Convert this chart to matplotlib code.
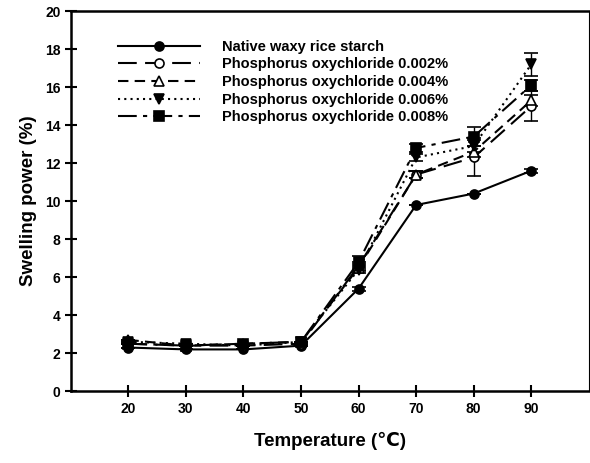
import numpy as np
import matplotlib
matplotlib.use("Agg")
import matplotlib.pyplot as plt
from matplotlib.lines import Line2D

plt.rcParams['font.family'] = ['Liberation Sans', 'DejaVu Sans']
plt.rcParams['font.weight'] = 'bold'

temps = [20, 30, 40, 50, 60, 70, 80, 90]

labels = ["Native waxy rice starch",
          "Phosphorus oxychloride 0.002%",
          "Phosphorus oxychloride 0.004%",
          "Phosphorus oxychloride 0.006%",
          "Phosphorus oxychloride 0.008%"]

native = [2.3, 2.2, 2.2, 2.4, 5.4, 9.8, 10.4, 11.6]
p002 = [2.5, 2.4, 2.4, 2.5, 6.6, 11.4, 12.3, 15.0]
p004 = [2.7, 2.4, 2.5, 2.6, 6.5, 11.4, 12.6, 15.3]
p006 = [2.6, 2.5, 2.4, 2.6, 6.4, 12.3, 12.9, 17.2]
p008 = [2.5, 2.4, 2.5, 2.6, 6.8, 12.8, 13.4, 16.1]

err_native = [0.0, 0.0, 0.0, 0.0, 0.1, 0.0, 0.0, 0.1]
err_002 = [0.0, 0.0, 0.0, 0.0, 0.2, 0.2, 1.0, 0.8]
err_004 = [0.0, 0.0, 0.0, 0.0, 0.2, 0.2, 0.3, 0.3]
err_006 = [0.0, 0.0, 0.0, 0.0, 0.2, 0.2, 0.3, 0.6]
err_008 = [0.0, 0.0, 0.0, 0.0, 0.3, 0.2, 0.5, 0.3]

series = [native, p002, p004, p006, p008]
errors = [err_native, err_002, err_004, err_006, err_008]
markers = ['o', 'o', '^', 'v', 's']
fills = ['black', 'white', 'white', 'black', 'black']
styles = ['-', (0, (9, 4)), (0, (5, 3)), (0, (1, 2)), (0, (9, 3, 2, 3))]

fig = plt.figure(figsize=(5.9, 4.63), dpi=100)
ax = fig.add_axes([0.120, 0.155, 0.878, 0.821])

handles = []
for y, e, m, fc, ls, lab in zip(series, errors, markers, fills, styles, labels):
    ax.errorbar(temps, y, yerr=e, color='black', marker=m, markersize=6.5,
                markerfacecolor=fc, markeredgecolor='black', markeredgewidth=1.2,
                linestyle=ls, linewidth=1.5, capsize=5, elinewidth=1.0)
    handles.append(Line2D([], [], color='black', marker=m, markersize=6.5,
                          markerfacecolor=fc, markeredgecolor='black',
                          markeredgewidth=1.2, linestyle=ls, linewidth=1.5,
                          label=lab))

ax.set_xlim(10, 100)
ax.set_ylim(0, 20)
ax.set_xticks(temps)
ax.set_yticks(np.arange(0, 21, 2))
ax.tick_params(direction='inout', length=8, width=1.5, labelsize=10)
for s in ax.spines.values():
    s.set_linewidth(1.8)
ax.spines['right'].set_linewidth(0.8)

ax.set_xlabel("Temperature (℃)", fontsize=13.5, fontweight='bold', labelpad=12)
ax.set_ylabel("Swelling power (%)", fontsize=13.5, fontweight='bold', labelpad=6)

leg = ax.legend(handles=handles, loc='upper left', bbox_to_anchor=(0.08, 0.94),
                frameon=False, fontsize=10.5, handlelength=5.6, labelspacing=0.25,
                handletextpad=1.5, borderaxespad=0)

fig.savefig("out.png", dpi=100)
